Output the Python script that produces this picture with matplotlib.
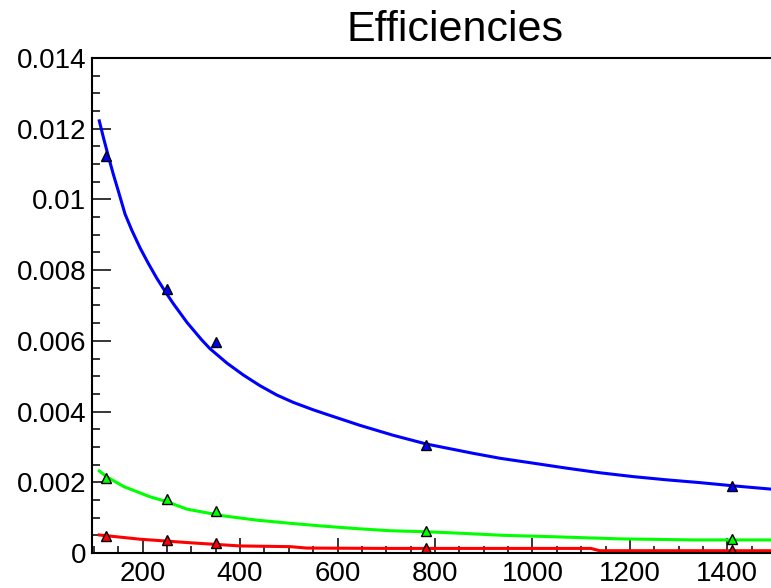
import matplotlib.pyplot as plt
from matplotlib.ticker import MultipleLocator

plt.rcParams['font.family'] = ['Liberation Sans', 'DejaVu Sans']

# measured points (triangles)
x_points = [125, 250, 350, 781, 1410]
blue_points = [0.01123, 0.00747, 0.00598, 0.00306, 0.00190]
green_points = [0.00211, 0.00152, 0.00119, 0.00062, 0.00040]
red_points = [0.00048, 0.00037, 0.00027, 0.00013, 0.000085]

# fitted curves
blue_x = [111, 120, 130, 140, 150, 164, 178, 195, 212, 229, 246, 263, 291, 321, 338,
          373, 407, 441, 475, 509, 550, 578, 646, 714, 783, 878, 933, 1002, 1070,
          1138, 1207, 1275, 1344, 1412, 1487]
blue_y = [0.01222, 0.01172, 0.01120, 0.01070, 0.01024, 0.00958, 0.00912, 0.00862,
          0.00818, 0.00777, 0.00740, 0.00705, 0.00652, 0.00603, 0.00578, 0.00537,
          0.00503, 0.00473, 0.00447, 0.00426, 0.00405, 0.00392, 0.00361, 0.00333,
          0.00308, 0.00282, 0.00268, 0.00254, 0.00240, 0.00227, 0.00216, 0.00207,
          0.00199, 0.00190, 0.00181]

green_x = [111, 127, 161, 215, 250, 291, 366, 434, 503, 571, 639, 708, 783, 851,
           940, 1043, 1179, 1330, 1487]
green_y = [0.00232, 0.00215, 0.00188, 0.00159, 0.00145, 0.00124, 0.00105, 0.00093,
           0.00084, 0.00076, 0.00069, 0.00063, 0.00060, 0.00056, 0.00050, 0.00046,
           0.00040, 0.00037, 0.00037]

red_x = [111, 195, 297, 400, 503, 537, 708, 900, 1120, 1138, 1487]
red_y = [0.00051, 0.00039, 0.00029, 0.00020, 0.00018, 0.00014, 0.00013, 0.00013,
         0.00013, 0.000065, 0.000065]

y_ticks = [0, 0.002, 0.004, 0.006, 0.008, 0.01, 0.012, 0.014]
y_tick_labels = ['0', '0.002', '0.004', '0.006', '0.008', '0.01', '0.012', '0.014']
x_ticks = [200, 400, 600, 800, 1000, 1200, 1400]

fig = plt.figure(figsize=(7.71, 5.88), dpi=100)
ax = fig.add_axes([0.1193, 0.0595, 0.9416, 0.842])

ax.plot(blue_x, blue_y, color='#0000ff', lw=2.2)
ax.plot(green_x, green_y, color='#00ff00', lw=2.2)
ax.plot(red_x, red_y, color='#ff0000', lw=2.2)

for pts, col in [(blue_points, '#0000ff'), (green_points, '#00ff00'), (red_points, '#ff0000')]:
    ax.plot(x_points, pts, ls='none', marker='^', ms=7.5, mfc=col, mec='black', mew=1)

ax.set_xlim(96, 1586)
ax.set_ylim(0, 0.014)
ax.set_yticks(y_ticks)
ax.set_yticklabels(y_tick_labels)
ax.set_xticks(x_ticks)
ax.xaxis.set_minor_locator(MultipleLocator(50))
ax.yaxis.set_minor_locator(MultipleLocator(0.0005))

ax.tick_params(axis='y', which='major', direction='in', length=13.7, width=1.1, labelsize=20, pad=4)
ax.tick_params(axis='y', which='minor', direction='in', length=5.8, width=1.1)
ax.tick_params(axis='x', which='major', direction='in', length=10.8, width=1.1, labelsize=20, pad=6)
ax.tick_params(axis='x', which='minor', direction='in', length=5, width=1.1)
ax.tick_params(top=False, right=False, which='both')

for sp in ax.spines.values():
    sp.set_linewidth(1.5)

ax.set_title('Efficiencies', fontsize=31, pad=12)

plt.savefig('out.png', dpi=100)
